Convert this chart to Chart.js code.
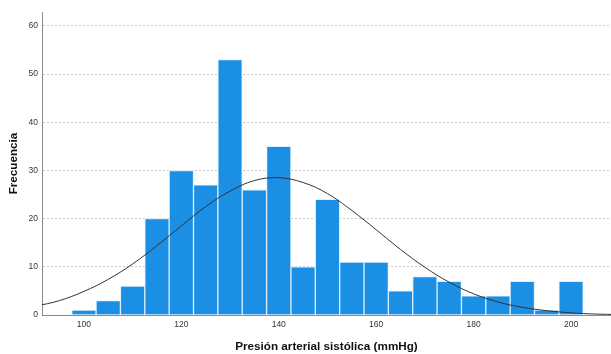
<!DOCTYPE html>
<html>
<head>
<meta charset="utf-8">
<script src="https://cdn.jsdelivr.net/npm/chart.js@4"></script>
<style>
  html, body { margin: 0; padding: 0; background: #fff; }
  #wrap { width: 611px; height: 354px; }
</style>
</head>
<body>
<div id="wrap"><canvas id="histo" width="611" height="354"></canvas></div>
<script>
// bin centres (width 5 mmHg) and counts
const binCenters = [100, 105, 110, 115, 120, 125, 130, 135, 140, 145, 150, 155, 160, 165, 170, 175, 180, 185, 190, 195, 200]
const counts     = [1, 3, 6, 20, 30, 27, 53, 26, 35, 10, 24, 11, 11, 5, 8, 7, 4, 4, 7, 1, 7]

// normal curve
const curveX = [90, 95, 100, 105, 110, 115, 120, 125, 130, 135, 140, 145, 150, 155, 160, 165, 170, 175, 180, 185, 190, 195, 200, 205, 210]
const curveY = [1.8, 3.0, 4.9, 7.4, 10.6, 14.4, 18.5, 22.5, 25.7, 27.9, 28.5, 27.5, 25.2, 21.7, 17.7, 13.6, 9.9, 6.8, 4.4, 2.7, 1.6, 0.9, 0.45, 0.2, 0.1]

const xTicks = [100, 120, 140, 160, 180, 200]
const yTicks = [0, 10, 20, 30, 40, 50, 60]

const FONT = '"Liberation Sans", Arial, sans-serif'

const ctx = document.getElementById('histo')

let chart = new Chart(ctx, {
    type: 'bar',
    data: {
        datasets: [
            {
                type: 'line',
                label: 'Normal',
                data: curveX.map((x, i) => ({ x: x, y: curveY[i] })),
                borderColor: '#333333',
                borderWidth: 1,
                pointRadius: 0,
                tension: 0.4,
                fill: false,
                order: 0
            },
            {
                label: 'Frecuencia',
                data: binCenters.map((x, i) => ({ x: x, y: counts[i] })),
                backgroundColor: '#1a8fe3',
                borderColor: '#dcefff',
                borderWidth: 1,
                borderSkipped: 'bottom',
                barPercentage: 1,
                categoryPercentage: 1,
                order: 1
            }
        ]
    },
    options: {
        responsive: false,
        animation: false,
        layout: { padding: { left: 0, right: 0, top: 12, bottom: 0 } },
        plugins: {
            legend: { display: false },
            tooltip: { enabled: false }
        },
        scales: {
            x: {
                type: 'linear',
                offset: false,
                min: 91.4,
                max: 208.2,
                afterBuildTicks: (s) => { s.ticks = xTicks.map(v => ({ value: v })) },
                afterFit: (s) => { s.height = 39 },
                grid: { display: false, drawTicks: false, offset: false },
                border: { display: true, color: '#8a8a8a', width: 1 },
                ticks: {
                    padding: 5,
                    color: '#333',
                    font: { family: FONT, size: 8.5 },
                    maxRotation: 0
                },
                title: {
                    display: true,
                    text: 'Presión arterial sistólica (mmHg)',
                    color: '#111',
                    font: { family: FONT, size: 11.7, weight: 'bold' },
                    padding: { top: 1, bottom: 0 }
                }
            },
            y: {
                min: 0,
                max: 62.9,
                afterBuildTicks: (s) => { s.ticks = yTicks.map(v => ({ value: v })) },
                afterFit: (s) => { s.width = 42 },
                grid: {
                    color: '#cccccc',
                    lineWidth: 1,
                    drawTicks: false
                },
                border: { display: true, color: '#8a8a8a', width: 1, dash: [2, 2] },
                ticks: {
                    padding: 4,
                    color: '#333',
                    font: { family: FONT, size: 8.5 }
                },
                title: {
                    display: true,
                    text: 'Frecuencia',
                    color: '#111',
                    font: { family: FONT, size: 11.7, weight: 'bold' },
                    padding: { top: 7, bottom: 0 }
                }
            }
        }
    }
})
</script>
</body>
</html>
